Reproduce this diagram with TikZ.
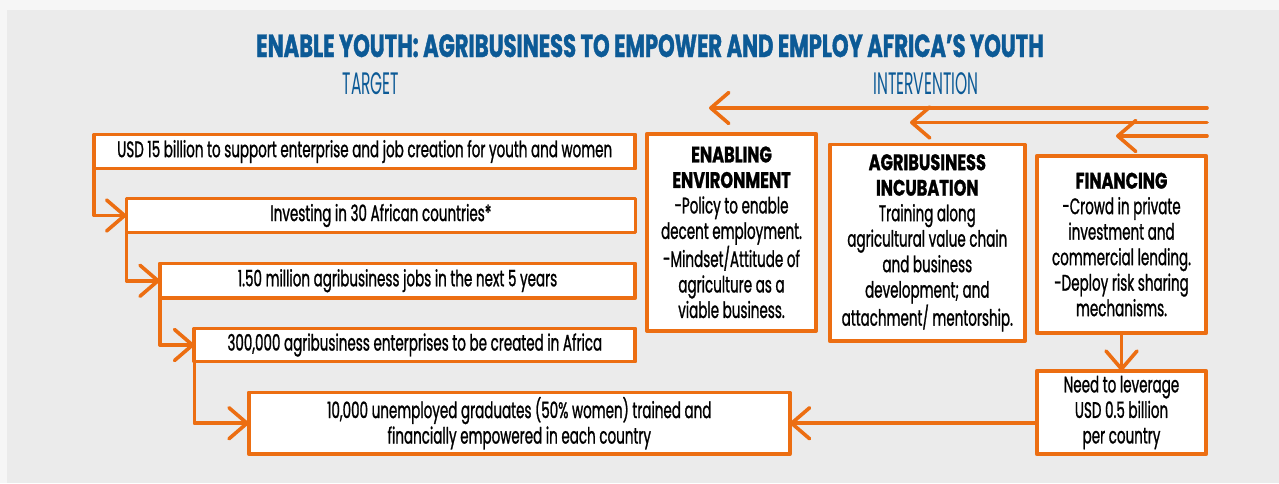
\documentclass[tikz,border=0pt]{standalone}
\usepackage{fontspec}
\setmainfont{Poppins}[FakeStretch=0.6, FakeBold=1]
\newfontfamily\titlefont{Poppins}[FakeStretch=0.66, BoldFeatures={FakeBold=1.2}]
\newfontfamily\headfont{Poppins}[FakeStretch=0.5]
\newfontfamily\hbfont{Poppins}[FakeStretch=0.72, BoldFeatures={FakeBold=1}]
\newcommand{\hb}{\hbfont\bfseries}
\usetikzlibrary{arrows.meta}
\definecolor{orng}{RGB}{236,110,18}
\definecolor{ttlblue}{RGB}{12,90,150}
\definecolor{panelgrey}{RGB}{235,235,235}
\definecolor{outergrey}{RGB}{246,246,246}
\begin{document}
\begin{tikzpicture}[x=1pt,y=-1pt,
  box/.style={draw=orng, line width=3.8pt, fill=white, line join=round,
    inner sep=0pt, outer sep=0pt, anchor=north west, align=center,
    font=\fontsize{22.5}{25.5}\selectfont},
  conn/.style={draw=orng, line width=3.6pt, line join=round, line cap=round,
    -{Straight Barb[length=18pt,width=31pt,round]}},
  ttl/.style={text=ttlblue, anchor=base, inner sep=0pt},
]
\useasboundingbox (0,0) rectangle (1279,483);
\fill[outergrey] (0,0) rectangle (1279,483);
\fill[panelgrey] (7,10) rectangle (1279,483);

\node[ttl, font=\titlefont\bfseries\fontsize{32}{36}\selectfont] (title) at (650,57)
  {ENABLE YOUTH: AGRIBUSINESS TO EMPOWER AND EMPLOY AFRICA’S YOUTH};
\node[ttl, font=\headfont\fontsize{31}{36}\selectfont] (target) at (371,94) {TARGET};
\node[ttl, font=\headfont\fontsize{31}{36}\selectfont] (interv) at (926,94) {INTERVENTION};

% target boxes
\node[box, minimum width=541pt, minimum height=34pt] (b1) at (94.2,134.5)
  {USD 15 billion to support enterprise and job creation for youth and women};
\node[box, minimum width=509pt, minimum height=34pt] (b2) at (126.4,198.5)
  {Investing in 30 African countries*};
\node[box, minimum width=475.5pt, minimum height=34.5pt] (b3) at (159.8,263.5)
  {1.50 million agribusiness jobs in the next 5 years};
\node[box, minimum width=441pt, minimum height=33pt] (b4) at (194.3,328.5)
  {300,000 agribusiness enterprises to be created in Africa};
\node[box, minimum width=541pt, minimum height=61.5pt] (b5) at (248.8,392.5)
  {10,000 unemployed graduates (50\% women) trained and\\financially empowered in each country};

% intervention boxes
\node[box, minimum width=169.4pt, minimum height=197pt] (env) at (646.8,133.8)
  {{\hb ENABLING}\\{\hb ENVIRONMENT}\\-Policy to enable\\decent employment.\\-Mindset/Attitude of\\agriculture as a\\viable business.};
\node[box, minimum width=195pt, minimum height=196.7pt] (inc) at (829.8,144.5)
  {{\hb AGRIBUSINESS}\\{\hb INCUBATION}\\Training along\\agricultural value chain\\and business\\development; and\\attachment/ mentorship.};
\node[box, minimum width=169.4pt, minimum height=177.4pt] (fin) at (1036.8,155.8)
  {{\hb FINANCING}\\-Crowd in private\\investment and\\commercial lending.\\-Deploy risk sharing\\mechanisms.};
\node[box, minimum width=169.4pt, minimum height=83.4pt] (need) at (1036.8,370.8)
  {Need to leverage\\USD 0.5 billion\\per country};

% left cascade connectors
\draw[conn] (b1.south west) |- (b2.west);
\draw[conn] (b2.south west) |- (b3.west);
\draw[conn] (b3.south west) |- (b4.west);
\draw[conn] (b4.south west) |- (b5.west);

% top arrows
\coordinate (r1) at (1207,108);   \coordinate (l1) at (709,108);
\coordinate (r2) at (1207,122.5); \coordinate (l2) at (910,122.5);
\coordinate (r3) at (1207,136);   \coordinate (l3) at (1116,136);
\draw[conn] (r1) -- (l1);
\draw[conn] (r2) -- (l2);
\draw[conn] (r3) -- (l3);

% financing flow
\draw[conn] (fin.south) -- (need.north);
\draw[conn] (need.west |- b5.east) -- (b5.east);
\end{tikzpicture}
\end{document}
